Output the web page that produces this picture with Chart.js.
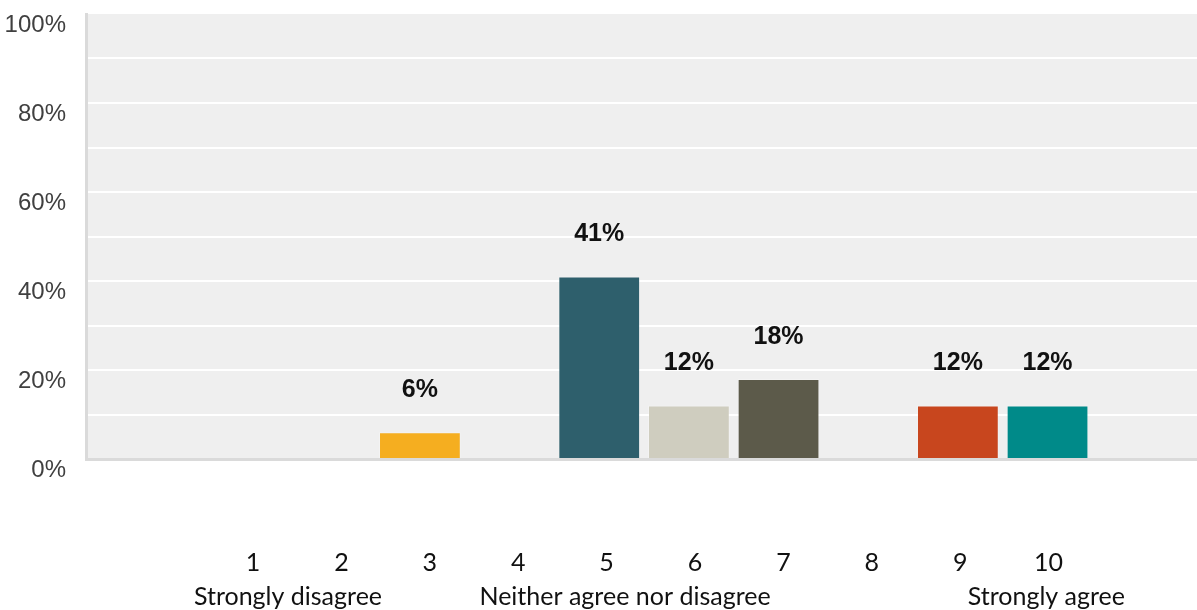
<!DOCTYPE html>
<html>
<head>
<meta charset="utf-8">
<script src="https://cdn.jsdelivr.net/npm/chart.js@4/dist/chart.umd.min.js"></script>
<style>
  html, body { margin: 0; padding: 0; background: #fff; }
  #wrap { width: 1197px; height: 610px; position: relative; }
</style>
</head>
<body>
<div id="wrap"><canvas id="chart"></canvas></div>
<script>
// rating scale 1..10 and share of answers per rating (%)
const categories = [1, 2, 3, 4, 5, 6, 7, 8, 9, 10];
const shares = [0, 0, 6, 0, 41, 12, 18, 0, 12, 12];
const percentTicks = [0, 20, 40, 60, 80, 100];
const anchorCategories = [1, 5, 10];
const anchorTexts = ['Strongly disagree', 'Neither agree nor disagree', 'Strongly agree'];

const barColors = ['#999999', '#999999', '#f5ae20', '#999999', '#2e5f6c',
                   '#cfcdbf', '#5c5a4a', '#999999', '#c8461e', '#008a89'];

const tickFont = { family: '"Liberation Sans", Arial, sans-serif', size: 24 };
const scaleFont = { family: 'Lato, "Open Sans", sans-serif', size: 25 };

// grey plot panel behind the grid
const panelBackground = {
  id: 'panelBackground',
  beforeDraw(chart) {
    const { ctx, chartArea: a } = chart;
    ctx.save();
    ctx.fillStyle = '#efefef';
    ctx.fillRect(a.left, a.top, a.right - a.left, a.bottom - a.top);
    ctx.restore();
  }
};

// percentage above each non-empty bar
const valueLabels = {
  id: 'valueLabels',
  afterDatasetsDraw(chart) {
    const { ctx } = chart;
    const meta = chart.getDatasetMeta(0);
    ctx.save();
    ctx.font = 'bold 25px "Liberation Sans", Arial, sans-serif';
    ctx.fillStyle = '#111';
    ctx.textAlign = 'center';
    ctx.textBaseline = 'middle';
    meta.data.forEach((bar, i) => {
      if (shares[i] > 0) ctx.fillText(shares[i] + '%', bar.x, bar.y - 42);
    });
    ctx.restore();
  }
};

// horizontal axes: no side padding, fixed band heights
const fixHeight = (h) => (s) => {
  s.height = h;
  s.paddingLeft = 0;
  s.paddingRight = 0;
};

const ctx = document.getElementById('chart').getContext('2d');
new Chart(ctx, {
  type: 'bar',
  data: {
    datasets: [{
      data: categories.map((c, i) => ({ x: c, y: shares[i] })),
      backgroundColor: barColors,
      borderColor: 'rgba(255,255,255,0.25)',
      borderWidth: 1,
      barPercentage: 0.912,
      categoryPercentage: 1
    }]
  },
  options: {
    responsive: true,
    maintainAspectRatio: false,
    animation: false,
    layout: { padding: { top: 14, left: 0, right: 0, bottom: 0 } },
    plugins: {
      legend: { display: false },
      tooltip: { enabled: false }
    },
    scales: {
      x: {
        type: 'linear',
        offset: false,
        min: -0.724,
        max: 11.667,
        weight: 0,
        grid: { display: false, drawTicks: false, offset: false },
        border: { display: true, color: '#dadada', width: 3 },
        afterBuildTicks: (s) => { s.ticks = categories.map(v => ({ value: v })); },
        ticks: { display: false },
        afterFit: fixHeight(0)
      },
      xn: {
        type: 'linear',
        position: 'bottom',
        offset: false,
        min: -0.889,
        max: 11.679,
        weight: 1,
        grid: { display: false, drawTicks: false, offset: false },
        border: { display: false },
        afterBuildTicks: (s) => { s.ticks = categories.map(v => ({ value: v })); },
        ticks: {
          autoSkip: false,
          maxRotation: 0,
          padding: 89,
          color: '#111',
          font: scaleFont,
          callback: (v) => String(v)
        },
        afterFit: fixHeight(120)
      },
      xd: {
        type: 'linear',
        position: 'bottom',
        offset: false,
        min: -1.397,
        max: 11.788,
        weight: 2,
        grid: { display: false, drawTicks: false, offset: false },
        border: { display: false },
        afterBuildTicks: (s) => { s.ticks = anchorCategories.map(v => ({ value: v })); },
        ticks: {
          autoSkip: false,
          maxRotation: 0,
          padding: 3,
          color: '#111',
          font: scaleFont,
          callback: (v) => anchorTexts[anchorCategories.indexOf(v)]
        },
        afterFit: fixHeight(31)
      },
      y: {
        min: 0,
        max: 100,
        grid: {
          drawTicks: false,
          lineWidth: 2,
          color: (c) => (c.tick && (c.tick.value === 0 || c.tick.value === 100)) ? 'rgba(0,0,0,0)' : '#ffffff'
        },
        border: { display: true, color: '#dadada', width: 3 },
        ticks: {
          stepSize: 10,
          padding: 20,
          labelOffset: 11,
          color: '#404040',
          font: tickFont,
          callback: (v) => percentTicks.includes(v) ? v + '%' : ''
        },
        afterFit: (s) => {
          s.width = 86;
          s.paddingTop = 0;
          s.paddingBottom = 0;
        }
      }
    }
  },
  plugins: [panelBackground, valueLabels]
});
</script>
</body>
</html>
